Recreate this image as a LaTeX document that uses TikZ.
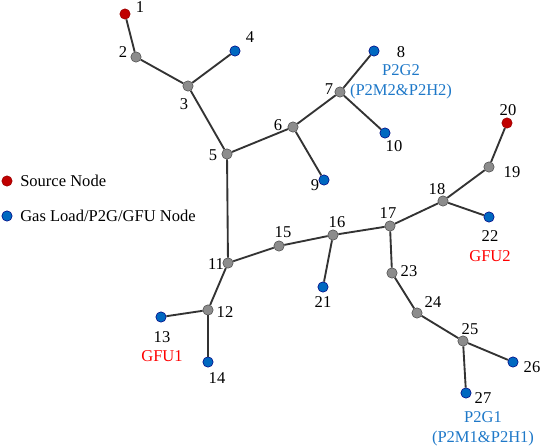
\documentclass[tikz,border=0pt]{standalone}
\usepackage{fontspec}
\setmainfont{Liberation Serif}
\begin{document}
\begin{tikzpicture}[x=0.75pt,y=-0.75pt,
  gnode/.style={circle,draw=black!70,fill=gray!90!white,line width=0.4pt,inner sep=0pt,minimum size=7.8pt},
  snode/.style={circle,draw=red!60!black,fill=srcred,line width=0.4pt,inner sep=0pt,minimum size=7.8pt},
  lnode/.style={circle,draw=blue!50!black,fill=loadblue,line width=0.4pt,inner sep=0pt,minimum size=7.8pt},
  pipe/.style={draw=black!80,line width=1.4pt},
  lab/.style={font=\fontsize{12.4}{13.5}\selectfont,inner sep=0pt,text=black},
  bluelab/.style={font=\fontsize{12.4}{15}\selectfont,inner sep=0pt,text=textblue,align=center},
  redlab/.style={font=\fontsize{12.4}{13.5}\selectfont,inner sep=0pt,text=red},
]
\definecolor{srcred}{RGB}{192,0,0}
\definecolor{loadblue}{RGB}{0,104,192}
\definecolor{textblue}{RGB}{30,120,200}
\useasboundingbox (0,0) rectangle (540,447);
% nodes
\node[snode] (n1) at (125,14) {};
\node[gnode] (n2) at (136,57) {};
\node[gnode] (n3) at (188,86) {};
\node[lnode] (n4) at (235,51) {};
\node[gnode] (n5) at (227,154) {};
\node[gnode] (n6) at (293,127) {};
\node[gnode] (n7) at (340,92) {};
\node[lnode] (n8) at (374,51) {};
\node[lnode] (n9) at (324,180) {};
\node[lnode] (n10) at (385,133) {};
\node[gnode] (n11) at (228,263) {};
\node[gnode] (n12) at (208,310) {};
\node[lnode] (n13) at (161,317) {};
\node[lnode] (n14) at (208,362) {};
\node[gnode] (n15) at (279,246) {};
\node[gnode] (n16) at (333,235) {};
\node[gnode] (n17) at (390,226) {};
\node[gnode] (n18) at (443,201) {};
\node[gnode] (n19) at (489,167) {};
\node[snode] (n20) at (507,123) {};
\node[lnode] (n21) at (323,287) {};
\node[lnode] (n22) at (489,217) {};
\node[gnode] (n23) at (392,273) {};
\node[gnode] (n24) at (417,313) {};
\node[gnode] (n25) at (463,341) {};
\node[lnode] (n26) at (513,362) {};
\node[lnode] (n27) at (466,393) {};
% pipes
\draw[pipe] (n1) -- (n2);
\draw[pipe] (n2) -- (n3);
\draw[pipe] (n3) -- (n4);
\draw[pipe] (n3) -- (n5);
\draw[pipe] (n5) -- (n6);
\draw[pipe] (n6) -- (n7);
\draw[pipe] (n7) -- (n8);
\draw[pipe] (n7) -- (n10);
\draw[pipe] (n6) -- (n9);
\draw[pipe] (n5) -- (n11);
\draw[pipe] (n11) -- (n15);
\draw[pipe] (n15) -- (n16);
\draw[pipe] (n16) -- (n17);
\draw[pipe] (n16) -- (n21);
\draw[pipe] (n11) -- (n12);
\draw[pipe] (n12) -- (n13);
\draw[pipe] (n12) -- (n14);
\draw[pipe] (n17) -- (n18);
\draw[pipe] (n18) -- (n19);
\draw[pipe] (n19) -- (n20);
\draw[pipe] (n18) -- (n22);
\draw[pipe] (n17) -- (n23);
\draw[pipe] (n23) -- (n24);
\draw[pipe] (n24) -- (n25);
\draw[pipe] (n25) -- (n26);
\draw[pipe] (n25) -- (n27);
% labels
\node[lab] (l1) at (140,7) {1};
\node[lab] (l2) at (123,52) {2};
\node[lab] (l3) at (184,104) {3};
\node[lab] (l4) at (250,37) {4};
\node[lab] (l5) at (213,155) {5};
\node[lab] (l6) at (278,125) {6};
\node[lab] (l7) at (329,89) {7};
\node[lab] (l8) at (401,52) {8};
\node[bluelab] (t8) at (401,82) {P2G2\\(P2M2\&P2H2)};
\node[lab] (l9) at (315,185) {9};
\node[lab] (l10) at (394,146) {10};
\node[lab] (l11) at (216,264) {11};
\node[lab] (l12) at (225,312) {12};
\node[lab] (l13) at (162,337) {13};
\node[redlab] (t13) at (162,356) {GFU1};
\node[lab] (l14) at (217,378) {14};
\node[lab] (l15) at (283,232) {15};
\node[lab] (l16) at (337,222) {16};
\node[lab] (l17) at (388,213) {17};
\node[lab] (l18) at (437,189) {18};
\node[lab] (l19) at (512,172) {19};
\node[lab] (l20) at (508,110) {20};
\node[lab] (l21) at (323,302) {21};
\node[lab] (l22) at (490,236) {22};
\node[redlab] (t22) at (490,256) {GFU2};
\node[lab] (l23) at (409,271) {23};
\node[lab] (l24) at (433,302) {24};
\node[lab] (l25) at (470,329) {25};
\node[lab] (l26) at (532,367) {26};
\node[lab] (l27) at (483,398) {27};
\node[bluelab] (t27) at (483,429) {P2G1\\(P2M1\&P2H1)};
% legend
\node[snode] (leg1) at (7,181) {};
\node[lab,anchor=west] (legt1) at (20,181) {Source Node};
\node[lnode] (leg2) at (7,216) {};
\node[lab,anchor=west] (legt2) at (20,216) {Gas Load/P2G/GFU Node};
\end{tikzpicture}
\end{document}
